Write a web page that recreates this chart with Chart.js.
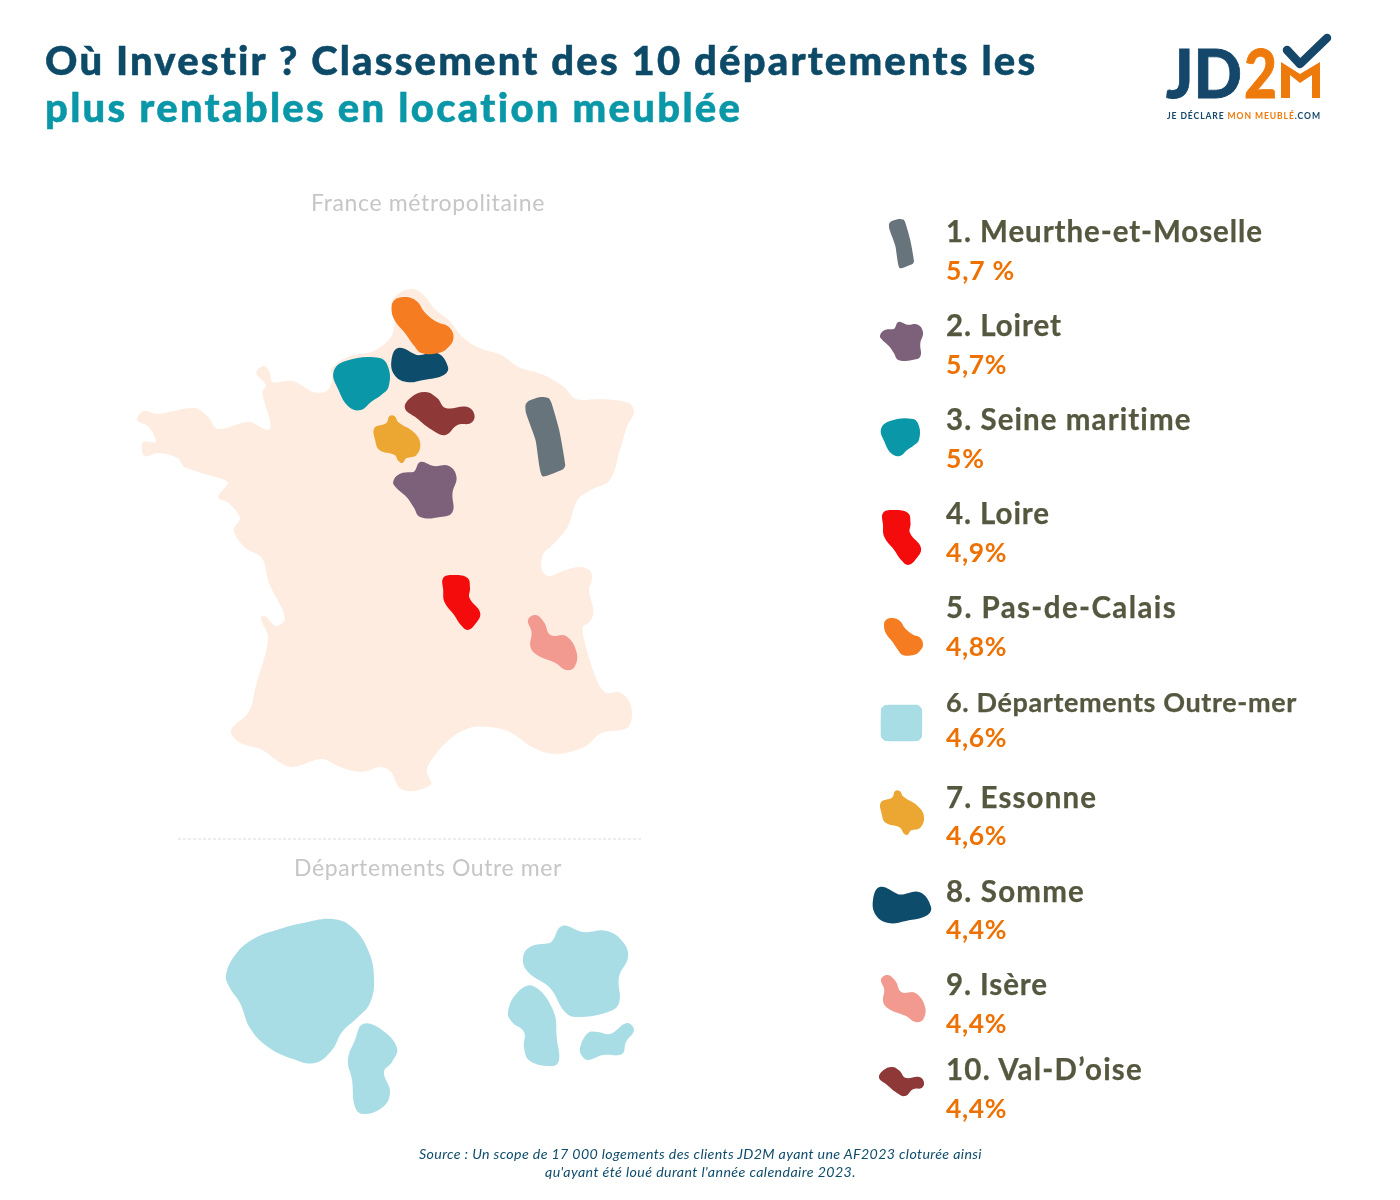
<!DOCTYPE html>
<html lang="fr"><head><meta charset="utf-8">
<script src="https://cdn.jsdelivr.net/npm/chart.js@4"></script>
<style>
html,body{margin:0;padding:0;background:#fff}
#page{position:relative;width:1400px;height:1200px;overflow:hidden;font-family:Lato,sans-serif}
canvas{position:absolute;left:0;top:0}
.t{position:absolute;white-space:nowrap;transform:translateY(-50%);line-height:1}
.title{font-size:40px;font-weight:900;-webkit-text-stroke:.5px currentColor;left:45px}
.head{font-size:23px;font-weight:400;color:#c6c6c6;}
.name{font-weight:700;font-size:29.5px;color:#55573f;left:946px;-webkit-text-stroke:.25px currentColor}
.val{font-weight:700;font-size:26.5px;color:#ed7103;left:946px}
.src{font-size:14.2px;font-style:italic;color:#0e4c6b;}
#logo{position:absolute;left:1150px;top:25px}
</style></head><body>
<div id="page">
<canvas id="c" width="1400" height="1200"></canvas>
<div class="t title" data-w="993" style="top:60px;color:#0c4a68">Où Investir ? Classement des 10 départements les</div>
<div class="t title" data-w="698" style="top:107px;color:#0a97a8">plus rentables en location meublée</div>
<div class="t head" data-w="234" style="left:311px;top:202px">France métropolitaine</div>
<div class="t head" data-w="268" style="left:294px;top:867px">Départements Outre mer</div>
<svg id="logo" width="200" height="105" viewBox="0 0 200 105">
<text x="16" y="73" font-family="Lato,sans-serif" font-weight="900" font-size="66" fill="#14476a" stroke="#14476a" stroke-width=".8" textLength="76" lengthAdjust="spacingAndGlyphs">JD</text>
<text x="94" y="73" font-family="Lato,sans-serif" font-weight="900" font-size="66" fill="#ee7a0c" stroke="#ee7a0c" stroke-width=".8" textLength="33" lengthAdjust="spacingAndGlyphs">2</text>
<path d="M131 73V37l19 12 20-12v36h-8V50l-12 8-10-8v23z" fill="#ee7a0c"/>
<path d="M137 25l13 14 27-26" fill="none" stroke="#14476a" stroke-width="8.5" stroke-linecap="round" stroke-linejoin="round"/>
<text x="17" y="94" font-family="Lato,sans-serif" font-weight="700" font-size="8.6" fill="#14476a" textLength="153">JE DÉCLARE <tspan fill="#ee7a0c">MON MEUBLÉ</tspan>.COM</text>
</svg>
<div id="legend"></div>
<div class="t src" data-w="563" style="left:419px;top:1154px">Source : Un scope de 17 000 logements des clients JD2M ayant une AF2023 cloturée ainsi</div>
<div class="t src" data-w="311" style="left:545px;top:1172px">qu'ayant été loué durant l'année calendaire 2023.</div>
</div>
<script>
const categories=["1. Meurthe-et-Moselle","2. Loiret","3. Seine maritime","4. Loire","5. Pas-de-Calais","6. Départements Outre-mer","7. Essonne","8. Somme","9. Isère","10. Val-D’oise"];
const valueLabels=["5,7 %","5,7%","5%","4,9%","4,8%","4,6%","4,6%","4,4%","4,4%","4,4%"];
const france=[[411.5,289],[421.7,293],[433.6,308],[450.5,322],[462.4,337],[479.3,348],[501.4,355],[518.3,367],[543.7,375],[564,387],[576,399],[601.4,399],[628.5,403],[634,412],[626.8,427],[620,450],[609.8,480],[591,490],[577.6,500],[567.5,527],[550.5,547],[543.7,553],[541.4,568],[547.8,576],[560.7,572],[577.6,567],[589.5,570],[592,578],[589,590],[593.6,612],[589.5,622],[582.7,627],[586,647],[598,683],[606.4,693],[618.3,692],[628.5,700],[632,715],[627,728],[601.4,733],[584.4,747],[555.6,754],[533.6,748],[509.8,732],[489.5,727],[469,728],[448.8,740],[430,762],[426.8,772],[431,784],[413,791],[399.7,788],[391,772],[381,767],[360.7,772],[340,767],[321.7,759],[293,767],[279,762],[262.4,750],[238.6,742],[231,730],[248.8,712],[255.6,687],[268,638],[260.7,618],[265,616],[276,626],[285,618],[269,583],[262,558],[245.4,548],[233.6,530],[240,518],[228.5,503],[218,497],[228,483],[221.7,479],[184.4,467],[177.6,458],[159,453],[144.4,456],[143,442],[155.6,442],[148.8,427],[137,420],[143.7,411],[157,414],[194.6,408],[208,417],[218,429],[248.8,422],[267.5,430],[270.8,425],[262.4,393],[265.8,385],[256.3,373],[264,366],[270,373],[272.5,382],[293,381],[313,392],[326.8,391],[332,380],[332,368],[350.5,356],[374,351],[391,337],[394.6,323],[393,300],[401,292],[411.5,289]];
const meurthe=[[527,405],[530,401],[542,397],[550,398],[553,403],[560.7,430],[566.8,465],[565,469],[560.7,471],[543.7,476],[537,440],[527.5,413],[527,405]];
const loiret=[[394.6,482],[401,474],[415,472],[421.7,462],[435,466],[450.5,466],[458,477],[454,493],[454,512],[442,517],[421.7,517],[415,507],[408,497],[398,488],[394.6,482]];
const seine=[[335,372],[347,361],[381,358],[390,368],[390,387],[382.7,395],[372.5,402],[362.4,410],[350.5,407],[340,390],[335,372]];
const loire=[[444.7,578],[454,575],[469,578],[471.5,588],[471,598],[481.7,613],[476,625],[469,630],[462.4,625],[455.6,615],[446,602],[444.7,590],[444.7,578]];
const pasDeCalais=[[393,308],[396,300],[406.4,297],[418,301],[426.8,313],[438.6,322],[450.5,327],[455,338],[449,348],[440,353],[423,353],[415,345],[406.4,333],[396,320],[393,308]];
const essonne=[[421.7,443],[418,455],[408,458],[404,463],[400,461],[396,455],[381,450],[376.6,440],[376,428],[387.8,423],[391,416],[396,416],[399.7,422],[415,432],[421.7,443]];
const somme=[[393,360],[399.7,348],[418,355],[438.6,353],[449.5,367],[445.4,375],[425,380],[408,382],[396,375],[393,360]];
const isere=[[529.5,620],[537,615],[545.4,622],[552,635],[567.5,636],[578,652],[576,667],[567.5,670],[557,663],[538.6,655],[532,647],[533,632],[529.5,620]];
const valDOise=[[406.4,408],[413,397],[426.8,392],[438.6,398],[447,408],[469,407],[476,415],[472.5,423],[459,425],[447,435],[433.6,430],[418,418],[406.4,408]];
const outreMerSquare=[[885,705],[918,705],[922,709],[922,737],[918,741],[885,741],[881,737],[881,709],[885,705]];
const domA=[[226,975],[236.7,953],[255,938],[276.7,930],[303,923],[333,919],[353,928],[368,950],[374,977],[370,1003],[357,1018],[342,1032],[332,1050],[315,1063],[293,1059],[268,1047],[250,1028],[240,1003],[230,988],[226,975]];
const domB=[[363,1024],[382,1030],[397,1048],[392,1062],[384,1072],[390,1092],[383,1107],[363,1114],[355,1107],[352,1080],[348,1060],[355,1040],[363,1024]];
const domC=[[523,958],[530,947],[550,943],[562,926],[583,932],[607,931],[623,942],[628,957],[619,977],[619,1003],[608,1012],[577,1017],[565,1012],[550,988],[528,972],[523,958]];
const domD=[[508,1012],[517,993],[533,986],[553,1010],[557,1040],[559,1060],[553,1066],[530,1061],[524,1048],[524,1032],[512,1022],[508,1012]];
const domE=[[580,1048],[588,1033],[598,1032],[610,1034],[627,1023],[634,1030],[626,1042],[622,1054],[603,1055],[588,1060],[582,1056],[580,1048]];
const separator=[[178,839],[642,839]];

const deptShapes=[meurthe,loiret,seine,loire,pasDeCalais,null,essonne,somme,isere,valDOise];
const deptColors=["#68747b","#7d6079","#0a97a8","#f40b0b","#f57c20","#a8dde6","#eca733","#0d4c6b","#f29a90","#8f3838"];
const legendBoxes=[[889,219,914,268],[880,322,923,360],[881,419,919,456],[883,510,921,565],[884,618,923,655],null,[881,791,924,835],[873,887,931,923],[881,975,925,1022],[879,1067,924,1096]];
const nameTops=[231,325,419,513,607,701,797,891,984,1069];
const valTops=[270,364,458,552,646,737,835,929,1023,1108];
const nameWidths=[317,116,246,104,231,351,151,139,102,197];
const valWidths=[69,61,39,61,61,61,61,61,61,61];
const mapOffsetX=-1.5;

const legend=document.getElementById('legend');
categories.forEach((c,i)=>{
  const n=document.createElement('div');n.className='t name';n.textContent=c;n.style.top=nameTops[i]+'px';n.dataset.w=nameWidths[i];
  if(i===5){n.style.fontSize='27px';}
  legend.appendChild(n);
  const v=document.createElement('div');v.className='t val';v.textContent=valueLabels[i];v.style.top=valTops[i]+'px';v.dataset.w=valWidths[i];
  legend.appendChild(v);
});
document.querySelectorAll('[data-w]').forEach(el=>{
  const w=el.getBoundingClientRect().width;
  el.style.letterSpacing=((+el.dataset.w-w)/el.textContent.length)+'px';
});

// Each outline is closed; repeating the first points lets the spline stay smooth through the join.
const wrap=a=>a.concat(a.slice(1,3));
const pts=(a,dx=0)=>wrap(a).map(([x,y])=>({x:x+dx,y}));
const fitted=(a,b)=>{
  const xs=a.map(p=>p[0]),ys=a.map(p=>p[1]);
  const x0=Math.min(...xs),x1=Math.max(...xs),y0=Math.min(...ys),y1=Math.max(...ys);
  return wrap(a).map(([x,y])=>({x:b[0]+(x-x0)*(b[2]-b[0])/(x1-x0),y:b[1]+(y-y0)*(b[3]-b[1])/(y1-y0)}));
};
const shape=(label,data,color,order,tension=0.42)=>({label,data,order,tension,showLine:true,fill:'shape',backgroundColor:color,borderColor:color,borderWidth:0,pointRadius:0,pointHoverRadius:0});

const datasets=[];
datasets.push(shape('France',pts(france),'#ffece1',10,0.35));
[domA,domB,domC,domD,domE].forEach((d,i)=>datasets.push(shape('Outre-mer '+i,pts(d),'#a8dde6',5)));
categories.forEach((c,i)=>{
  const s=deptShapes[i];
  if(s){
    const tn=i===0?0.2:0.42;
    datasets.push(shape(c,pts(s,mapOffsetX),deptColors[i],3,tn));
    datasets.push(shape(c+' légende',fitted(s,legendBoxes[i]),deptColors[i],3,tn));
  }else{
    datasets.push(shape(c,pts(outreMerSquare),deptColors[i],3,0.1));
  }
});
datasets.push({label:'séparateur',data:separator.map(([x,y])=>({x,y})),showLine:true,fill:false,borderColor:'#dcdcdc',borderWidth:1,borderDash:[3,2],pointRadius:0,order:6});

new Chart(document.getElementById('c'),{
  type:'scatter',
  data:{datasets},
  options:{
    responsive:false,animation:false,devicePixelRatio:1,
    layout:{padding:0},
    plugins:{legend:{display:false},tooltip:{enabled:false},title:{display:false}},
    events:[],
    scales:{
      x:{type:'linear',min:0,max:1400,display:false},
      y:{type:'linear',min:0,max:1200,reverse:true,display:false}
    }
  }
});
</script>
</body></html>
